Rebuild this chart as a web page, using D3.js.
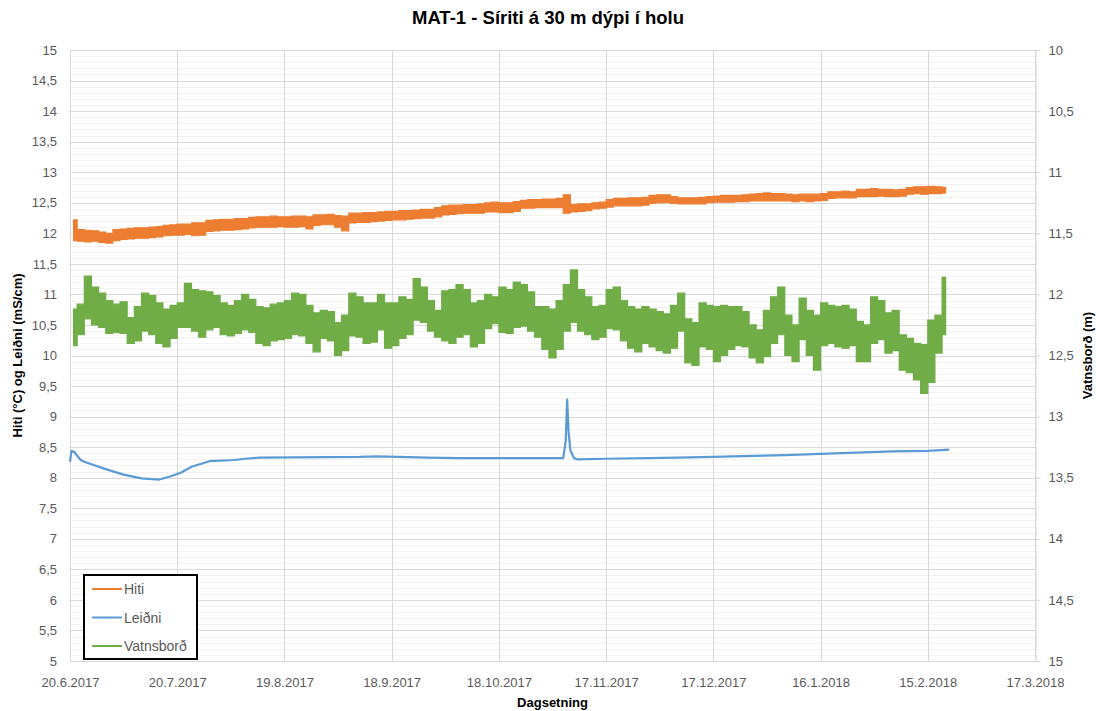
<!DOCTYPE html>
<html>
<head>
<meta charset="utf-8">
<script src="https://cdn.jsdelivr.net/npm/d3@7"></script>
<style>
  body { margin: 0; background: #fff; }
  text { font-family: "Liberation Sans", Arial, sans-serif; }
</style>
</head>
<body>
<svg id="chart" width="1096" height="711"></svg>
<script>
// ---- Data ---------------------------------------------------------------
// Logger readings, one band (low/high) per 2-day step starting 20.6.2017.
const seriesStart = "2017-06-20";
const stepDays = 2;

// Hiti (°C): lower and upper edge of the daily scatter
const hitiLow = [
  11.88, 11.87, 11.86, 11.87, 11.85, 11.84, 11.88, 11.90, 11.91, 11.92,
  11.92, 11.93, 11.94, 11.96, 11.97, 11.97, 11.98, 11.96, 11.97, 12.03,
  12.04, 12.05, 12.05, 12.06, 12.07, 12.09, 12.10, 12.10, 12.10, 12.11,
  12.10, 12.10, 12.11, 12.07, 12.13, 12.14, 12.14, 12.10, 12.04, 12.17,
  12.18, 12.18, 12.19, 12.20, 12.21, 12.22, 12.22, 12.23, 12.24, 12.25,
  12.25, 12.27, 12.30, 12.31, 12.32, 12.33, 12.33, 12.33, 12.35, 12.35,
  12.34, 12.34, 12.36, 12.41, 12.41, 12.42, 12.42, 12.42, 12.42, 12.33,
  12.35, 12.36, 12.37, 12.40, 12.41, 12.43, 12.45, 12.45, 12.45, 12.45,
  12.46, 12.49, 12.50, 12.50, 12.49, 12.48, 12.48, 12.48, 12.48, 12.50,
  12.51, 12.51, 12.51, 12.52, 12.52, 12.53, 12.53, 12.53, 12.53, 12.53,
  12.53, 12.52, 12.53, 12.52, 12.53, 12.54, 12.57, 12.58, 12.58, 12.58,
  12.60, 12.60, 12.60, 12.61, 12.60, 12.60, 12.61, 12.64, 12.65, 12.64,
  12.65, 12.65, 12.66
];
const hitiHigh = [
  12.22, 12.06, 12.05, 12.04, 12.02, 12.00, 12.06, 12.07, 12.08, 12.09,
  12.09, 12.10, 12.11, 12.13, 12.14, 12.15, 12.15, 12.17, 12.17, 12.21,
  12.22, 12.23, 12.23, 12.24, 12.24, 12.26, 12.27, 12.27, 12.28, 12.27,
  12.27, 12.28, 12.28, 12.27, 12.30, 12.30, 12.31, 12.29, 12.28, 12.33,
  12.33, 12.34, 12.34, 12.35, 12.36, 12.36, 12.37, 12.37, 12.38, 12.39,
  12.39, 12.42, 12.45, 12.46, 12.46, 12.47, 12.47, 12.48, 12.50, 12.51,
  12.50, 12.50, 12.52, 12.54, 12.55, 12.55, 12.56, 12.56, 12.57, 12.63,
  12.47, 12.48, 12.48, 12.50, 12.51, 12.55, 12.57, 12.57, 12.58, 12.58,
  12.59, 12.62, 12.63, 12.63, 12.60, 12.58, 12.58, 12.58, 12.59, 12.60,
  12.61, 12.62, 12.62, 12.62, 12.63, 12.64, 12.65, 12.66, 12.65, 12.65,
  12.64, 12.63, 12.64, 12.64, 12.64, 12.65, 12.68, 12.68, 12.69, 12.68,
  12.72, 12.72, 12.73, 12.72, 12.72, 12.71, 12.72, 12.75, 12.76, 12.76,
  12.77, 12.76, 12.75
];

// Vatnsborð (m): shallow and deep edge of the tidal swing
const vatnShallow = [
  12.12, 12.08, 11.85, 11.94, 11.99, 12.05, 12.08, 12.06, 12.19, 12.10,
  11.99, 12.01, 12.07, 12.12, 12.09, 12.07, 11.91, 11.96, 11.97, 11.98,
  12.01, 12.07, 12.09, 12.05, 12.00, 12.04, 12.10, 12.11, 12.08, 12.07,
  12.05, 11.99, 12.00, 12.09, 12.15, 12.13, 12.14, 12.23, 12.17, 11.99,
  12.02, 12.07, 12.07, 12.00, 12.07, 12.07, 12.02, 12.04, 11.87, 11.94,
  12.05, 12.13, 11.97, 11.96, 11.92, 11.96, 12.07, 12.05, 12.00, 12.02,
  11.94, 11.96, 11.90, 11.92, 11.98, 12.10, 12.10, 12.12, 12.05, 11.92,
  11.80, 11.96, 12.02, 12.10, 12.09, 11.96, 11.94, 12.05, 12.10, 12.12,
  12.10, 12.12, 12.14, 12.16, 12.09, 11.99, 12.20, 12.23, 12.07, 12.09,
  12.10, 12.09, 12.10, 12.10, 12.14, 12.25, 12.29, 12.13, 12.02, 11.94,
  12.17, 12.25, 12.03, 12.13, 12.17, 12.07, 12.09, 12.10, 12.09, 12.12,
  12.22, 12.25, 12.02, 12.05, 12.15, 12.13, 12.33, 12.36, 12.40, 12.41,
  12.21, 12.17, 11.86
];
const vatnDeep = [
  12.42, 12.33, 12.20, 12.25, 12.27, 12.32, 12.31, 12.32, 12.40, 12.38,
  12.30, 12.33, 12.40, 12.43, 12.36, 12.27, 12.27, 12.30, 12.35, 12.29,
  12.27, 12.33, 12.34, 12.32, 12.29, 12.31, 12.40, 12.42, 12.38, 12.37,
  12.36, 12.33, 12.34, 12.40, 12.47, 12.36, 12.38, 12.50, 12.46, 12.34,
  12.35, 12.40, 12.39, 12.29, 12.44, 12.42, 12.36, 12.33, 12.21, 12.23,
  12.30, 12.35, 12.38, 12.40, 12.35, 12.33, 12.43, 12.40, 12.28, 12.24,
  12.31, 12.32, 12.27, 12.26, 12.30, 12.35, 12.45, 12.52, 12.45, 12.30,
  12.23, 12.30, 12.33, 12.37, 12.35, 12.28, 12.29, 12.38, 12.44, 12.47,
  12.40, 12.43, 12.46, 12.48, 12.44, 12.30, 12.56, 12.58, 12.43, 12.45,
  12.55, 12.50, 12.45, 12.42, 12.43, 12.52, 12.56, 12.51, 12.40, 12.33,
  12.50, 12.55, 12.37, 12.50, 12.62, 12.42, 12.40, 12.43, 12.44, 12.42,
  12.55, 12.55, 12.40, 12.37, 12.48, 12.46, 12.62, 12.64, 12.70, 12.81,
  12.72, 12.48, 12.33
];

// Leiðni (mS/cm): day offset from series start and value
const leidniDays = [0, 0.4, 1.2, 2, 3, 4, 6, 10, 15, 20, 25, 28, 31, 34, 39, 46, 49, 53,
  81, 86, 100, 109, 123, 138, 138.7, 139.1, 139.5, 140, 141, 142, 150, 170, 180,
  200, 210, 230, 240, 246];
const leidni = [8.26, 8.44, 8.42, 8.36, 8.29, 8.26, 8.22, 8.14, 8.05, 7.99, 7.97, 8.02, 8.08, 8.18, 8.27, 8.29, 8.31, 8.33,
  8.34, 8.35, 8.33, 8.32, 8.32, 8.32, 8.60, 9.28, 8.75, 8.45, 8.32, 8.30, 8.31, 8.33, 8.34,
  8.37, 8.39, 8.43, 8.44, 8.46];

// Axes
const xDomain = ["2017-06-20", "2018-03-17"];
const dateTicks = ["2017-06-20", "2017-07-20", "2017-08-19", "2017-09-18", "2017-10-18",
  "2017-11-17", "2017-12-17", "2018-01-16", "2018-02-15", "2018-03-17"];
const leftTicks = [5, 5.5, 6, 6.5, 7, 7.5, 8, 8.5, 9, 9.5, 10, 10.5, 11, 11.5, 12, 12.5, 13, 13.5, 14, 14.5, 15];
const rightTicks = [10, 10.5, 11, 11.5, 12, 12.5, 13, 13.5, 14, 14.5, 15];

const seriesNames = ["Hiti", "Leiðni", "Vatnsborð"];
const seriesColors = ["#ED7D31", "#5B9BD5", "#70AD47"];

// ---- Layout -------------------------------------------------------------
const W = 1096, H = 711;
const plot = { left: 70, right: 1035, top: 50, bottom: 661 };

const svg = d3.select("#chart");
const parse = d3.utcParse("%Y-%m-%d");
const t0 = parse(seriesStart);
const atDay = d => new Date(t0.getTime() + d * 864e5);

const x = d3.scaleUtc().domain(xDomain.map(parse)).range([plot.left, plot.right]);
const yL = d3.scaleLinear().domain([5, 15]).range([plot.bottom, plot.top]);
const yR = d3.scaleLinear().domain([10, 15]).range([plot.top, plot.bottom]);

const locale = d3.formatLocale({ decimal: ",", thousands: ".", grouping: [3], currency: ["", " kr."] });
const numFmt = v => locale.format(",")(v);
const dateFmt = d3.utcFormat("%-d.%-m.%Y");

// ---- Grid ---------------------------------------------------------------
const grid = svg.append("g");
const minor = d3.range(50, 151).filter(k => k % 5 !== 0).map(k => k / 10);
grid.selectAll("line.minor").data(minor).join("line")
  .attr("x1", plot.left).attr("x2", plot.right)
  .attr("y1", d => Math.round(yL(d)) + 0.5).attr("y2", d => Math.round(yL(d)) + 0.5)
  .attr("stroke", "#f2f2f2").attr("stroke-width", 1);
grid.selectAll("line.major").data(leftTicks).join("line")
  .attr("x1", plot.left).attr("x2", plot.right)
  .attr("y1", d => Math.round(yL(d)) + 0.5).attr("y2", d => Math.round(yL(d)) + 0.5)
  .attr("stroke", "#d9d9d9").attr("stroke-width", 1);
grid.selectAll("line.vert").data(dateTicks.map(parse)).join("line")
  .attr("x1", d => Math.round(x(d)) + 0.5).attr("x2", d => Math.round(x(d)) + 0.5)
  .attr("y1", plot.top).attr("y2", plot.bottom)
  .attr("stroke", "#d9d9d9").attr("stroke-width", 1);

// ---- Axes ---------------------------------------------------------------
const leftAxis = svg.append("g").attr("transform", `translate(${plot.left},0)`)
  .call(d3.axisLeft(yL).tickValues(leftTicks).tickFormat(numFmt).tickSize(0).tickPadding(13));
const bottomAxis = svg.append("g").attr("transform", `translate(0,${plot.bottom})`)
  .call(d3.axisBottom(x).tickValues(dateTicks.map(parse)).tickFormat(dateFmt).tickSize(0).tickPadding(17));
const rightAxis = svg.append("g").attr("transform", `translate(${plot.right + 0.5},0)`)
  .call(d3.axisRight(yR).tickValues(rightTicks).tickFormat(numFmt).tickSize(5).tickPadding(8));

[leftAxis, bottomAxis, rightAxis].forEach(g => {
  g.selectAll("text").attr("fill", "#595959").style("font-size", "13px");
  g.select(".domain").attr("stroke", "#d9d9d9");
  g.selectAll(".tick line").attr("stroke", "#d9d9d9");
});
leftAxis.select(".domain").remove();
bottomAxis.select(".domain").remove();
svg.append("line").attr("x1", plot.left + 0.5).attr("x2", plot.left + 0.5)
  .attr("y1", plot.top).attr("y2", plot.bottom).attr("stroke", "#d9d9d9");
svg.append("line").attr("x1", plot.left).attr("x2", plot.right)
  .attr("y1", plot.bottom + 0.5).attr("y2", plot.bottom + 0.5).attr("stroke", "#d9d9d9");

// ---- Series -------------------------------------------------------------
// Dense logger scatter is drawn as a stepped band between the two edges
// of each 2-day step, centred on the step.
function band(lowArr, highArr) {
  return lowArr.map((lo, i) => ({ t: atDay(i * stepDays + 1), lo, hi: highArr[i] }));
}

const areaL = d3.area().curve(d3.curveStep)
  .x(d => x(d.t)).y0(d => yL(d.lo)).y1(d => yL(d.hi));
const areaR = d3.area().curve(d3.curveStep)
  .x(d => x(d.t)).y0(d => yR(d.lo)).y1(d => yR(d.hi));
const lineL = d3.line().x(d => x(d[0])).y(d => yL(d[1]));

svg.append("path")
  .attr("d", areaL(band(hitiLow, hitiHigh)))
  .attr("fill", seriesColors[0]).attr("stroke", seriesColors[0]).attr("stroke-width", 1.2)
  .attr("stroke-linejoin", "miter");

svg.append("path")
  .attr("d", lineL(leidniDays.map((d, i) => [atDay(d), leidni[i]])))
  .attr("fill", "none").attr("stroke", seriesColors[1]).attr("stroke-width", 2.2)
  .attr("stroke-linejoin", "round");

svg.append("path")
  .attr("d", areaR(band(vatnDeep, vatnShallow)))
  .attr("fill", seriesColors[2]).attr("stroke", seriesColors[2]).attr("stroke-width", 1.2)
  .attr("stroke-linejoin", "miter");

// ---- Titles -------------------------------------------------------------
svg.append("text").attr("x", W / 2).attr("y", 24).attr("text-anchor", "middle")
  .style("font-size", "18.5px").style("font-weight", "bold").attr("fill", "#000")
  .text("MAT-1 - Síriti á 30 m dýpi í holu");
svg.append("text").attr("x", (plot.left + plot.right) / 2).attr("y", 707).attr("text-anchor", "middle")
  .style("font-size", "13px").style("font-weight", "bold").attr("fill", "#000")
  .text("Dagsetning");
svg.append("text").attr("transform", `translate(22,${(plot.top + plot.bottom) / 2}) rotate(-90)`)
  .attr("text-anchor", "middle")
  .style("font-size", "13px").style("font-weight", "bold").attr("fill", "#000")
  .text("Hiti (°C) og Leiðni (mS/cm)");
svg.append("text").attr("transform", `translate(1092,${(plot.top + plot.bottom) / 2}) rotate(-90)`)
  .attr("text-anchor", "middle")
  .style("font-size", "13px").style("font-weight", "bold").attr("fill", "#000")
  .text("Vatnsborð (m)");

// ---- Legend -------------------------------------------------------------
const legend = svg.append("g").attr("transform", "translate(84,575)");
legend.append("rect").attr("width", 113).attr("height", 84)
  .attr("fill", "#fff").attr("stroke", "#000").attr("stroke-width", 2);
const items = legend.selectAll("g.item").data(seriesNames).join("g")
  .attr("transform", (d, i) => `translate(0,${14 + i * 28.5})`);
items.append("line").attr("x1", 8).attr("x2", 38).attr("y1", 0).attr("y2", 0)
  .attr("stroke", (d, i) => seriesColors[i]).attr("stroke-width", 2);
items.append("text").attr("x", 40).attr("y", 5)
  .style("font-size", "14px").attr("fill", "#595959").text(d => d);
</script>
</body>
</html>
